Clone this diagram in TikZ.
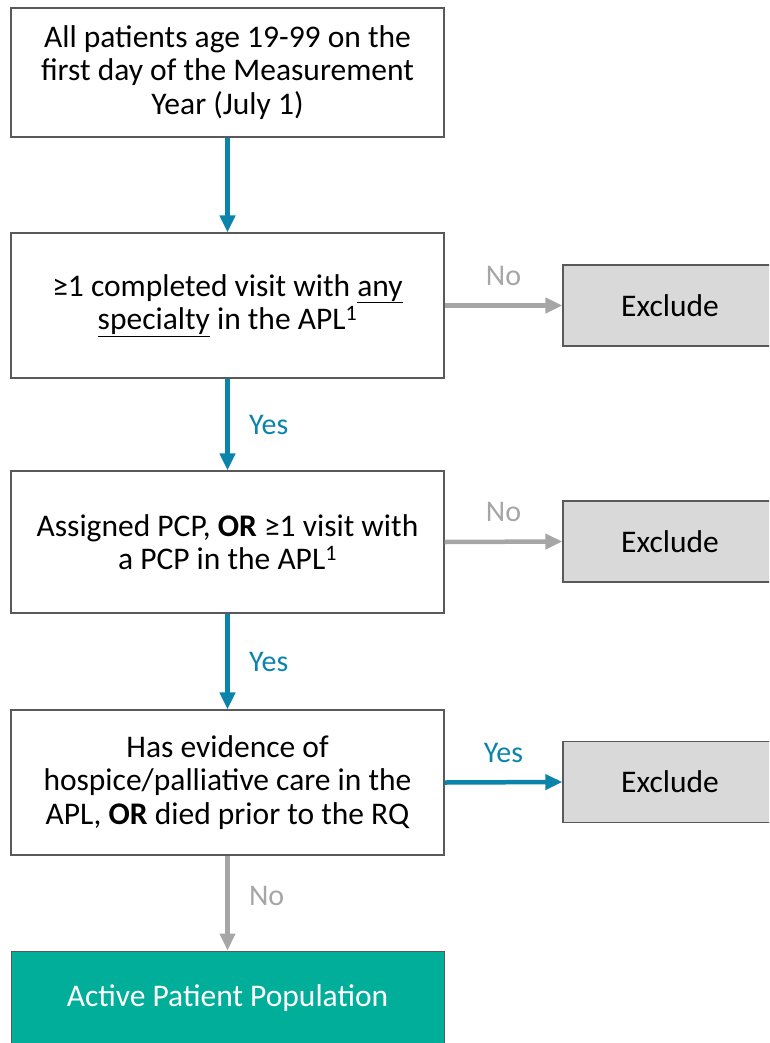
\documentclass[tikz,border=0pt]{standalone}
\usepackage{fontspec}
\setmainfont{Carlito}
\usetikzlibrary{arrows.meta}
\definecolor{flowblue}{HTML}{0A84AB}
\definecolor{flowgrey}{HTML}{A6A6A6}
\definecolor{boxgrey}{HTML}{D9D9D9}
\definecolor{edgegrey}{HTML}{595959}
\definecolor{teal}{HTML}{00AE9A}
\begin{document}
\begin{tikzpicture}[x=1pt,y=-1pt,
  stepbox/.style={draw=edgegrey,line width=1.3pt,fill=white,minimum width=433pt,align=center,inner sep=0pt,font=\fontsize{31.5}{33.5}\selectfont},
  exbox/.style={draw=edgegrey,line width=1.3pt,fill=boxgrey,minimum width=214pt,minimum height=81pt,inner sep=0pt,font=\fontsize{31.5}{33.5}\selectfont},
  endbox/.style={draw=edgegrey,line width=1pt,fill=teal,text=white,minimum width=433pt,minimum height=94pt,inner sep=0pt,font=\fontsize{31.5}{33.5}\selectfont},
  bluearrow/.style={draw=flowblue,line width=4.5pt,-{Triangle[width=15pt,length=17pt]}},
  greyarrow/.style={draw=flowgrey,line width=4.5pt,-{Triangle[width=15pt,length=17pt]}},
  bluelab/.style={text=flowblue,font=\fontsize{30}{32}\selectfont},
  greylab/.style={text=flowgrey,font=\fontsize{30}{32}\selectfont}]
\useasboundingbox (0,0) rectangle (769,1043);
\clip (0,0) rectangle (769,1043);
\node[stepbox,minimum height=129pt] (b1) at (227.5,72.5) {All patients age 19-99 on the\\first day of the Measurement\\Year (July 1)};
\node[stepbox,minimum height=145pt] (b2) at (227.5,305.5) {≥1 completed visit with \underline{any}\\\underline{specialty} in the APL\textsuperscript{1}};
\node[stepbox,minimum height=142pt] (b3) at (227.5,542) {Assigned PCP, \textbf{OR} ≥1 visit with\\a PCP in the APL\textsuperscript{1}};
\node[stepbox,minimum height=145pt] (b4) at (227.5,782.5) {Has evidence of\\hospice/palliative care in the\\APL, \textbf{OR} died prior to the RQ};
\node[endbox] (b5) at (227.5,998) {Active Patient Population};
\node[exbox] (e1) at (670,305.5) {Exclude};
\node[exbox] (e2) at (670,541.5) {Exclude};
\node[exbox] (e3) at (670,782) {Exclude};
\draw[bluearrow] (b1.south) -- (b2.north);
\draw[bluearrow] (b2.south) -- node[bluelab,right=16pt] (y1) {Yes} (b3.north);
\draw[bluearrow] (b3.south) -- node[bluelab,right=16pt] (y2) {Yes} (b4.north);
\draw[greyarrow] (b4.south) -- node[greylab,right=16pt,pos=0.43] (n3) {No} (b5.north);
\draw[greyarrow] (b2.east) -- node[greylab,above=14pt] (n1) {No} (e1.west);
\draw[greyarrow] (b3.east) -- node[greylab,above=14pt] (n2) {No} (e2.west);
\draw[bluearrow] (b4.east) -- node[bluelab,above=14pt] (y3) {Yes} (e3.west);
\end{tikzpicture}
\end{document}
